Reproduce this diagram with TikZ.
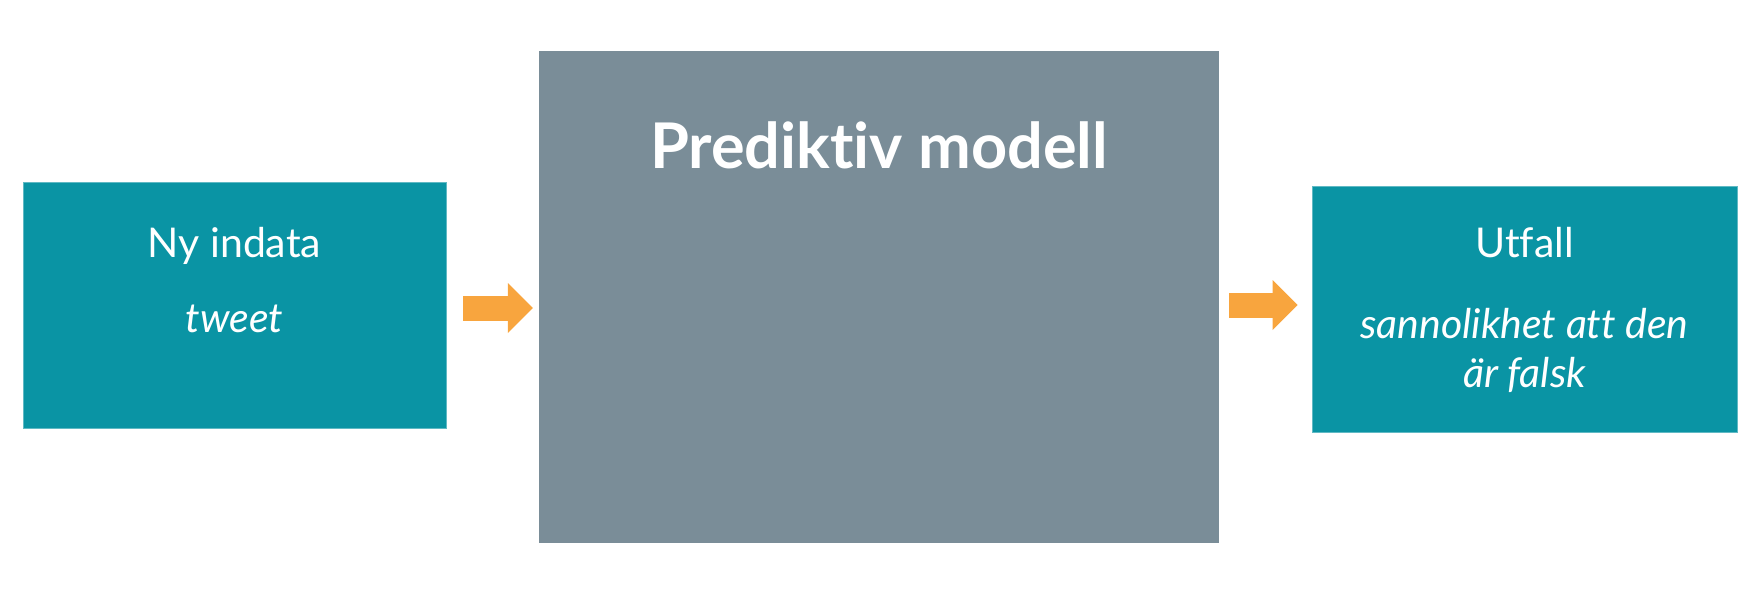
\documentclass[tikz,border=0pt]{standalone}
\usepackage{fontspec}
\setmainfont{Lato}[Ligatures=NoCommon]
\usepackage{tikz}
\usetikzlibrary{arrows.meta,calc}
\definecolor{tealbox}{HTML}{0A94A4}
\definecolor{modelgray}{HTML}{7A8D98}
\definecolor{arroworange}{HTML}{F8A53E}
\tikzstyle{block} = [fill=tealbox, draw=tealbox!65!white, line width=0.8pt, rectangle, 
    minimum width=423pt, minimum height=246pt]
\tikzstyle{modelbox} = [fill=modelgray, rectangle, minimum width=680pt, minimum height=492pt]
\tikzstyle{boxtext} = [text=white, anchor=base, inner sep=0pt, 
    font=\fontsize{41}{49}\selectfont]
\tikzstyle{fatarrow} = [draw=arroworange, line width=25pt, 
    -{Triangle[length=25pt, width=50pt, line width=0pt]}]

\begin{document}
\begin{tikzpicture}[x=1pt, y=-1pt]
    \useasboundingbox (0,0) rectangle (1757,592);

    % Input block
    \node [block] (input) at (234.5,305) {};
    \node [boxtext] (inputtitle) at (234.5,257) {Ny indata};
    \node [boxtext, font=\fontsize{41}{49}\selectfont\itshape] (inputdesc) at (234.5,332) {tweet};

    % Model block
    \node [modelbox] (model) at (879,297) {};
    \node [boxtext, font=\fontsize{63}{70}\selectfont\bfseries] (modeltitle) at (879,168) {Prediktiv modell};

    % Output block
    \node [block, minimum width=425pt] (output) at (1524.5,309) {};
    \node [boxtext] (outputtitle) at (1524.5,257) {Utfall};
    \node [boxtext, align=center, font=\fontsize{41}{49}\selectfont\itshape] (outputdesc) 
        at (1524.5,387) {sannolikhet att den\\är falsk};

    % Once the blocks are placed, the arrows go between them
    \draw [fatarrow, shorten <=17pt, shorten >=6pt] ($(input.east)+(0,3)$) -- ($(input.east -| model.west)+(0,3)$);
    \draw [fatarrow, shorten <=10pt, shorten >=14pt] ($(model.east)+(0,8)$) -- ($(model.east -| output.west)+(0,8)$);
\end{tikzpicture}
\end{document}
